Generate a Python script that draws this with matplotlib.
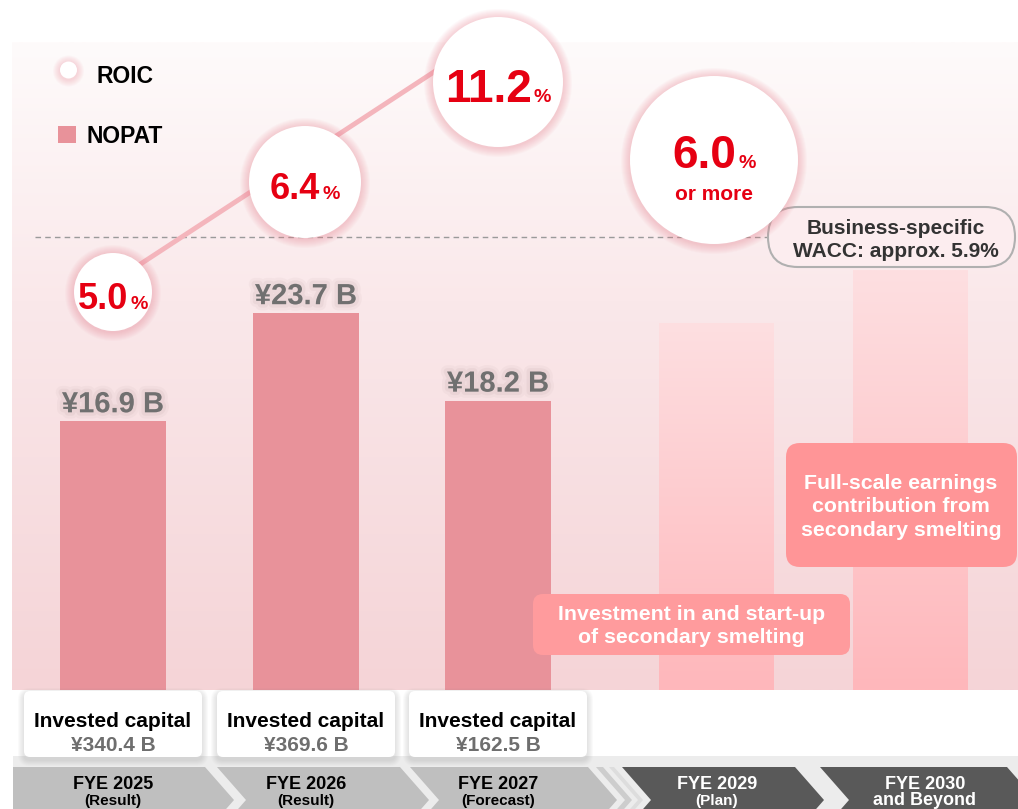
import matplotlib
matplotlib.use('Agg')
import matplotlib.pyplot as plt
from matplotlib import rcParams
from matplotlib import patheffects as pe
from matplotlib.patches import Circle, Rectangle, FancyBboxPatch, Polygon
from matplotlib.colors import LinearSegmentedColormap
import numpy as np

rcParams['font.family'] = 'sans-serif'
rcParams['font.sans-serif'] = ['Liberation Sans', 'DejaVu Sans']
rcParams['font.weight'] = 'bold'

#================ data ====================
periods = ['FYE 2025', 'FYE 2026', 'FYE 2027', 'FYE 2029', 'FYE 2030']
period_notes = ['(Result)', '(Result)', '(Forecast)', '(Plan)', 'and Beyond']
nopat = [16.9, 23.7, 18.2]          # ¥ billion
nopat_outlook = [23.1, 26.4]        # unlabeled outlook bars (plan years)
invested_capital = [340.4, 369.6, 162.5]
roic = [5.0, 6.4, 11.2, 6.0]
roic_notes = ['', '', '', 'or more']
wacc = 5.9
callouts = ['Investment in and start-up\nof secondary smelting',
            'Full-scale earnings\ncontribution from\nsecondary smelting']

#================ layout (pixels) ====================
W, H = 1018, 809
bar_x = [113, 306, 498, 717, 911]
bar_w = [106, 106, 106, 115, 115]
panel_top, panel_base = 42, 690
px_per_b = 15.9
# ROIC bubbles are placed schematically, as in the original slide
roic_xy = [(113, 292), (305, 182), (498, 82), (714, 160)]
roic_r = [39, 56, 65, 84]
roic_fs = [26, 26, 33, 33]
wacc_y = 237

red = '#e60012'
bar_col = '#e8929a'
pink_glow = '#f07f8e'

fig = plt.figure(figsize=(W / 100, H / 100), dpi=100)

# background layer in pixel coordinates
ax_bg = fig.add_axes([0, 0, 1, 1], zorder=0)
ax_bg.axis('off')

bg_cmap = LinearSegmentedColormap.from_list('bg', [(0, '#fefbfb'), (0.4, '#fae8ea'), (1, '#f5d4d7')])
grad = np.linspace(0, 1, 256).reshape(-1, 1)
ax_bg.imshow(grad, cmap=bg_cmap, extent=[12, W, panel_base, panel_top], aspect='auto', origin='upper')
ax_bg.set_xlim(0, W)
ax_bg.set_ylim(H, 0)

# grey timeline band
ax_bg.add_patch(Rectangle((13, 756), W - 13, H - 756, fc='#ececec', ec='none'))

# bars (NOPAT) in their own value scale
ax_bar = fig.add_axes([0, (H - panel_base) / H, 1, (panel_base - panel_top) / H], zorder=1)
ax_bar.patch.set_alpha(0)
ax_bar.axis('off')
ax_bar.bar(bar_x[:3], nopat, width=bar_w[:3], color=bar_col, zorder=2)
shadow = [pe.Stroke(linewidth=9, foreground='#b89a9c', alpha=0.08),
          pe.Stroke(linewidth=5, foreground='#b89a9c', alpha=0.12), pe.Normal()]
for x, v in zip(bar_x[:3], nopat):
    ax_bar.annotate('¥%.1f B' % v, xy=(x, v), xytext=(0, 9), textcoords='offset pixels',
                    ha='center', va='baseline', fontsize=21, color='#707070', zorder=3,
                    path_effects=shadow)

ghost_cmap = LinearSegmentedColormap.from_list('ghost', ['#ffb7bb', '#fddfe1'])
ghosts = ax_bar.bar(bar_x[3:], nopat_outlook, width=bar_w[3:], color='none', zorder=1)
for b in ghosts:
    im = ax_bar.imshow(grad, cmap=ghost_cmap, origin='lower', aspect='auto', zorder=1,
                       extent=[b.get_x(), b.get_x() + b.get_width(), 0, b.get_height()])
    im.set_clip_path(b)
ax_bar.set_xlim(0, W)
ax_bar.set_ylim(0, (panel_base - panel_top) / px_per_b)

# overlay in pixel coordinates
ax = fig.add_axes([0, 0, 1, 1], zorder=2)
ax.patch.set_alpha(0)
ax.set_xlim(0, W)
ax.set_ylim(H, 0)
ax.axis('off')


def glow_circle(cx, cy, r, spread=9, alpha=0.045):
    for k in range(spread, 0, -1):
        ax.add_patch(Circle((cx, cy + 1), r + k, fc=pink_glow, ec='none', alpha=alpha, zorder=3))
    ax.add_patch(Circle((cx, cy), r, fc='white', ec='none', zorder=4))


# legend
glow_circle(68.5, 70, 8.5, spread=7)
ax.text(97, 83, 'ROIC', fontsize=16.5, color='black', va='baseline')
ax.add_patch(Rectangle((58, 126), 18, 17, fc=bar_col, ec='none'))
ax.text(87, 143, 'NOPAT', fontsize=16.5, color='black', va='baseline')

# WACC reference
ax.plot([35, 768], [wacc_y, wacc_y], ls=(0, (4, 3)), color='#9a9a9a', lw=1, zorder=1)
ax.add_patch(FancyBboxPatch((768, 207), 247, 60, boxstyle='round,pad=0,rounding_size=30',
                            fc='#fcedef', ec='#b0b0b0', lw=1.5, zorder=2))
ax.text(896, 240, 'Business-specific\nWACC: approx. %.1f%%' % wacc, ha='center', va='center',
        fontsize=15, color='#333333', linespacing=1.3, zorder=3)

# ROIC trend line and bubbles
(x1, y1), (x3, y3) = roic_xy[0], roic_xy[2]
ax.plot([x1, x3], [y1 - 10, y3 - 52], color='#f4b5bc', lw=3.5, solid_capstyle='butt', zorder=2)

renderer = fig.canvas.get_renderer()
for (cx, cy), r, fs, v, note in zip(roic_xy, roic_r, roic_fs, roic, roic_notes):
    glow_circle(cx, cy, r)
    cap = fs / 0.72 * 0.716
    base = cy + cap / 2 + 4 if not note else cy + 8
    tb = ax.text(0, base, '%.1f' % v, fontsize=fs, color=red, va='baseline', zorder=5)
    tp = ax.text(0, base, '%', fontsize=14, color=red, va='baseline', zorder=5)
    wb = tb.get_window_extent(renderer).width
    wp = tp.get_window_extent(renderer).width
    left = cx - (wb + 2 + wp) / 2
    tb.set_x(left)
    tp.set_x(left + wb + 2)
    if note:
        ax.text(cx, base + 32, note, ha='center', va='baseline', fontsize=15, color=red, zorder=5)

# callout boxes
ax.add_patch(FancyBboxPatch((533, 594), 317, 61, boxstyle='round,pad=0,rounding_size=10',
                            fc='#ff9b9d', ec='none', zorder=3))
ax.text(691.5, 626, callouts[0], ha='center', va='center', fontsize=15.3, color='white',
        linespacing=1.3, zorder=4)
ax.add_patch(FancyBboxPatch((786, 443), 231, 124, boxstyle='round,pad=0,rounding_size=14',
                            fc='#ff9597', ec='none', zorder=3))
ax.text(901, 507, callouts[1], ha='center', va='center', fontsize=15.3, color='white',
        linespacing=1.3, zorder=4)

# invested capital boxes
for x, v in zip(bar_x[:3], invested_capital):
    bx, bw, by, bh = x - 89, 178, 691, 66
    for k in range(6, 0, -1):
        ax.add_patch(FancyBboxPatch((bx - k, by - k + 3), bw + 2 * k, bh + 2 * k,
                                    boxstyle='round,pad=0,rounding_size=%d' % (6 + k),
                                    fc='#808080', ec='none', alpha=0.035, zorder=3))
    ax.add_patch(FancyBboxPatch((bx, by), bw, bh, boxstyle='round,pad=0,rounding_size=6',
                                fc='white', ec='none', zorder=4))
    ax.text(x, 727, 'Invested capital', ha='center', va='baseline', fontsize=15, color='black', zorder=5)
    ax.text(x, 751, '¥%.1f B' % v, ha='center', va='baseline', fontsize=15, color='#6e6e6e', zorder=5)


# timeline chevrons
def chevron(xl, xr, color, first=False, top=767, mid=800, bottom=833, d=29):
    pts = [(xl, top), (xr, top), (xr + d, mid), (xr, bottom), (xl, bottom)]
    if not first:
        pts.append((xl + d, mid))
    ax.add_patch(Polygon(pts, closed=True, fc=color, ec='none', zorder=2))


chevron(13, 205, '#bfbfbf', first=True)
chevron(217, 400, '#bfbfbf')
chevron(410, 588, '#bfbfbf')
chevron(596, 603, '#cdcdcd')
chevron(609, 614, '#dddddd')
chevron(622, 795, '#595959')
chevron(820, 1007, '#595959')

label_x = [113, 306, 498, 717, 925]
for i, (x, p, n) in enumerate(zip(label_x, periods, period_notes)):
    c = 'black' if i < 3 else 'white'
    ax.text(x, 789, p, ha='center', va='baseline', fontsize=13, color=c, zorder=5)
    ax.text(x, 805, n, ha='center', va='baseline', fontsize=11 if n.startswith('(') else 13,
            color=c, zorder=5)

fig.savefig('out.png', dpi=100)
